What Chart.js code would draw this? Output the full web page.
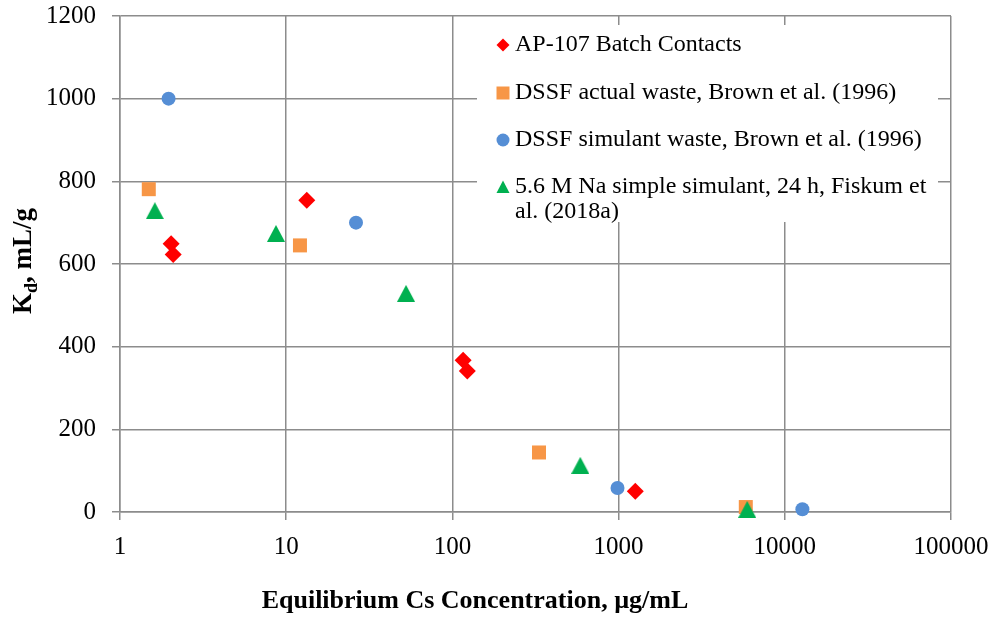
<!DOCTYPE html>
<html>
<head>
<meta charset="utf-8">
<title>Cs Kd vs equilibrium Cs concentration</title>
<script src="https://cdn.jsdelivr.net/npm/chart.js@4"></script>
<style>
  html, body { margin: 0; padding: 0; background: #ffffff; }
  #wrap { position: relative; width: 995px; height: 617px; }
</style>
</head>
<body>
<div id="wrap"><canvas id="kd"></canvas></div>
<script>
// Series: equilibrium Cs concentration (µg/mL) and Kd (mL/g)
const seriesNames = [
  'AP-107 Batch Contacts',
  'DSSF actual waste, Brown et al. (1996)',
  'DSSF simulant waste, Brown et al. (1996)',
  '5.6 M Na simple simulant, 24 h, Fiskum et al. (2018a)'
];
const legendLines = [
  ['AP-107 Batch Contacts'],
  ['DSSF actual waste, Brown et al. (1996)'],
  ['DSSF simulant waste, Brown et al. (1996)'],
  ['5.6 M Na simple simulant, 24 h, Fiskum et', 'al. (2018a)']
];
const seriesColors = ['#ff0000', '#f79646', '#558ed5', '#00b050'];

const ap107Conc = [2.03, 2.09, 13.3, 116, 123, 1260];
const ap107Kd   = [649, 623, 754, 367, 341, 50];

const dssfActualConc = [1.49, 12.1, 332, 5825];
const dssfActualKd   = [781, 645, 144, 12];

const dssfSimConc = [1.96, 26.3, 985, 12760];
const dssfSimKd   = [1000, 700, 58, 6.5];

const naSimConc = [1.62, 8.68, 52.6, 588, 5940];
const naSimKd   = [729, 674, 529, 113, 6.5];

const xTickValues = [1, 10, 100, 1000, 10000, 100000];
const yTickValues = [0, 200, 400, 600, 800, 1000, 1200];

const xTitle = 'Equilibrium Cs Concentration, µg/mL';
const yTitleMain = 'K';
const yTitleSub = 'd';
const yTitleRest = ', mL/g';

const serif = "'Liberation Serif', 'Times New Roman', serif";
const gridColor = '#8c8c8c';

// Isosceles triangle marker drawn once on a small canvas
function triangleMarker(w, h, color) {
  const c = document.createElement('canvas');
  c.width = w; c.height = h;
  const g = c.getContext('2d');
  g.fillStyle = color;
  g.beginPath();
  g.moveTo(w / 2, 0);
  g.lineTo(w, h);
  g.lineTo(0, h);
  g.closePath();
  g.fill();
  return c;
}
const triangleBig = triangleMarker(18, 17, seriesColors[3]);

function toPoints(xs, ys) {
  return xs.map((x, i) => ({ x: x, y: ys[i] }));
}

// White legend panel drawn over the grid, inside the plot area
const legendPanel = {
  id: 'legendPanel',
  beforeDatasetsDraw(chart) {
    const ctx = chart.ctx;
    ctx.save();
    ctx.fillStyle = '#ffffff';
    ctx.fillRect(477, 25, 461, 197);
    const rows = [45, 93, 140, 187];
    const mx = 503, tx = 515;
    ctx.font = '24px ' + serif;
    ctx.textBaseline = 'middle';
    ctx.textAlign = 'left';
    rows.forEach((ry, i) => {
      ctx.fillStyle = seriesColors[i];
      ctx.beginPath();
      if (i === 0) {
        ctx.moveTo(mx, ry - 6.5); ctx.lineTo(mx + 6.5, ry);
        ctx.lineTo(mx, ry + 6.5); ctx.lineTo(mx - 6.5, ry);
      } else if (i === 1) {
        ctx.rect(mx - 6.5, ry - 6.5, 13, 13);
      } else if (i === 2) {
        ctx.arc(mx, ry, 6.5, 0, Math.PI * 2);
      } else {
        ctx.moveTo(mx, ry - 6.5); ctx.lineTo(mx + 6.5, ry + 6);
        ctx.lineTo(mx - 6.5, ry + 6);
      }
      ctx.closePath();
      ctx.fill();
      ctx.fillStyle = '#000000';
      legendLines[i].forEach((line, k) => {
        ctx.fillText(line, tx, ry + k * 25);
      });
    });
    ctx.restore();
  }
};

// Axis titles: x title below the tick labels, y title rotated with a subscript d
const axisTitles = {
  id: 'axisTitles',
  afterDraw(chart) {
    const ctx = chart.ctx;
    const area = chart.chartArea;
    ctx.save();
    ctx.fillStyle = '#000000';
    ctx.textBaseline = 'alphabetic';

    ctx.font = 'bold 26px ' + serif;
    ctx.textAlign = 'center';
    ctx.fillText(xTitle, 475, 608);

    const big = 'bold 27px ' + serif;
    const small = 'bold 18px ' + serif;
    ctx.textAlign = 'left';
    ctx.font = big;
    const w1 = ctx.measureText(yTitleMain).width;
    const w3 = ctx.measureText(yTitleRest).width;
    ctx.font = small;
    const w2 = ctx.measureText(yTitleSub).width;
    const total = w1 + w2 + w3;
    ctx.translate(31, (area.top + area.bottom) / 2 - 3);
    ctx.rotate(-Math.PI / 2);
    let x = -total / 2;
    ctx.font = big;
    ctx.fillText(yTitleMain, x, 0);
    x += w1;
    ctx.font = small;
    ctx.fillText(yTitleSub, x, 6);
    x += w2;
    ctx.font = big;
    ctx.fillText(yTitleRest, x, 0);
    ctx.restore();
  }
};

new Chart(document.getElementById('kd'), {
  type: 'scatter',
  data: {
    datasets: [
      {
        label: seriesNames[0],
        data: toPoints(ap107Conc, ap107Kd),
        backgroundColor: seriesColors[0],
        pointStyle: 'rectRot',
        pointRadius: 8.5,
        borderWidth: 0,
        order: 3,
        clip: false
      },
      {
        label: seriesNames[1],
        data: toPoints(dssfActualConc, dssfActualKd),
        backgroundColor: seriesColors[1],
        pointStyle: 'rect',
        pointRadius: 9.9,
        borderWidth: 0,
        order: 2,
        clip: false
      },
      {
        label: seriesNames[2],
        data: toPoints(dssfSimConc, dssfSimKd),
        backgroundColor: seriesColors[2],
        pointStyle: 'circle',
        pointRadius: 7,
        borderWidth: 0,
        order: 1,
        clip: false
      },
      {
        label: seriesNames[3],
        data: toPoints(naSimConc, naSimKd),
        backgroundColor: seriesColors[3],
        pointStyle: triangleBig,
        pointRadius: 9,
        borderWidth: 0,
        order: 0,
        clip: false
      }
    ]
  },
  options: {
    responsive: true,
    maintainAspectRatio: false,
    animation: false,
    events: [],
    layout: { padding: { top: 16, right: 44, left: 0, bottom: 0 } },
    plugins: {
      legend: { display: false },
      tooltip: { enabled: false }
    },
    scales: {
      x: {
        type: 'logarithmic',
        min: 1,
        max: 100000,
        afterBuildTicks(scale) {
          scale.ticks = xTickValues.map(v => ({ value: v, major: true }));
        },
        afterFit(scale) {
          scale.height = 105;
          scale.paddingLeft = 0;
          scale.paddingRight = 0;
        },
        ticks: {
          autoSkip: false,
          maxRotation: 0,
          padding: 12,
          color: '#000000',
          font: { family: serif, size: 25 },
          callback: v => String(v)
        },
        grid: { color: gridColor, lineWidth: 1.5, tickLength: 8, drawTicks: true },
        border: { color: gridColor, width: 1.5 },
        title: { display: false }
      },
      y: {
        min: 0,
        max: 1200,
        afterBuildTicks(scale) {
          scale.ticks = yTickValues.map(v => ({ value: v }));
        },
        afterFit(scale) {
          scale.width = 120;
          scale.paddingTop = 0;
          scale.paddingBottom = 0;
        },
        ticks: {
          padding: 16,
          color: '#000000',
          font: { family: serif, size: 25 },
          callback: v => String(v)
        },
        grid: { color: gridColor, lineWidth: 1.5, tickLength: 8, drawTicks: true },
        border: { color: gridColor, width: 1.5 }
      }
    }
  },
  plugins: [legendPanel, axisTitles]
});
</script>
</body>
</html>
